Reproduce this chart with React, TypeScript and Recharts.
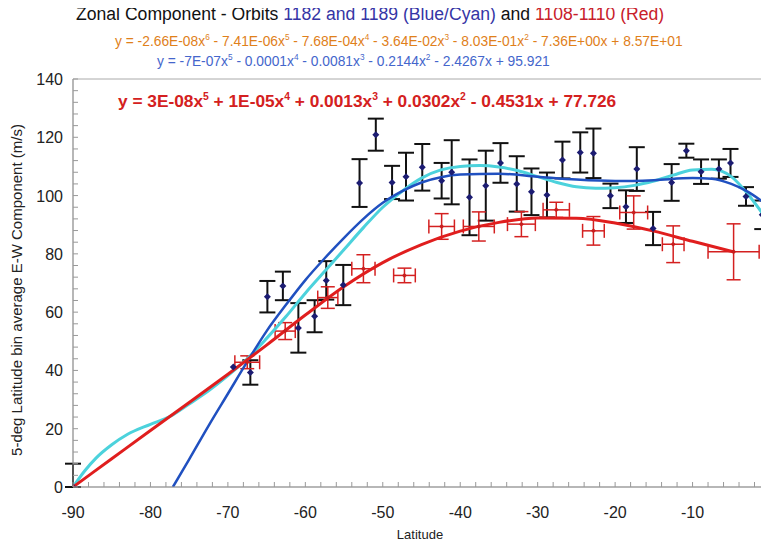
import React from 'react';
import {
  ComposedChart, Line, Scatter, XAxis, YAxis, ErrorBar, ReferenceArea,
} from 'recharts';

// Orbits 1182/1189 bin averages (navy diamonds, black error bars)
const blueLat = [-90, -69.3, -67.1, -64.9, -62.9, -60.9, -58.8, -57.3, -55.1, -53.0, -50.9, -48.8, -47.0, -44.9, -42.4, -41.1, -38.8, -36.7, -34.8, -32.7, -30.8, -28.8, -26.8, -24.5, -22.8, -20.6, -18.6, -17.2, -15.1, -12.7, -10.8, -8.9, -6.6, -5.1, -3.1, -1.0];
const blueVal = [0, 41.2, 39.3, 65.3, 69, 54.6, 58.6, 70.9, 69.3, 104.3, 120.9, 104.5, 106.5, 109.7, 105.1, 108, 99.4, 103.4, 111.2, 104, 101.3, 100.2, 112.2, 114.8, 114.5, 99.9, 96.2, 109.1, 88.7, 104.5, 115.4, 108.2, 109.1, 111.2, 99.7, 93.4];
// first bin only shows its upper half (it sits on the axis)
const blueErr: (number | number[])[] = [[0, 8], 0, 4.2, 5.4, 4.9, 8.5, 5.5, 6.6, 6.9, 8.2, 5.5, 5.7, 8.2, 8, 6.1, 11, 13, 12, 6.8, 9.5, 8, 7.7, 6.3, 6.9, 8.5, 4.2, 5.6, 7.5, 5.7, 6.3, 2.4, 4.2, 3.3, 4.8, 3.2, 4.9];

// Orbits 1108-1110 (red crosses)
const redLat = [-90, -67.5, -62.6, -57.1, -52.5, -47.2, -42.4, -37.6, -32.1, -27.6, -22.8, -17.6, -12.5, -4.7];
const redVal = [0, 42.8, 53.5, 65, 74.9, 72.6, 89.4, 89.4, 90.2, 95.1, 87.9, 94.2, 83.3, 80.7];
const redXErr = [0, 1.6, 1.3, 1.3, 1.5, 1.4, 1.65, 2.0, 1.8, 1.7, 1.4, 1.8, 1.4, 3.3];
const redYErr = [0, 2.2, 2.9, 3.7, 4.8, 2.5, 4.4, 5.0, 4.3, 2.6, 4.9, 5.7, 6.3, 9.6];

// trend curves
const fitBlueLat = [-77.1, -75, -72.5, -70, -67.5, -65, -62.5, -60, -57.5, -55, -52.5, -50, -47.5, -45, -42.5, -40, -35, -30, -25, -20, -15, -10, -7.5, -5, -3, -1];
const fitBlueVal = [0, 9.5, 21, 32, 43, 53.5, 62.5, 71, 78.5, 85.5, 92, 97.5, 101.5, 104.5, 106.3, 107.2, 107.5, 106.5, 105.5, 105, 105.3, 106, 105.8, 104, 101.5, 98];
const fitCyanLat = [-90, -88.5, -87, -85, -83, -80, -77.5, -75, -72.5, -70, -67.5, -65, -62.5, -60, -57.5, -55, -52.5, -50, -47.5, -45, -42.5, -40, -37.5, -35, -32.5, -30, -27.5, -25, -22.5, -20, -17.5, -15, -12.5, -10, -7.5, -5, -3, -1];
const fitCyanVal = [0, 5.5, 10, 14.5, 18, 21.5, 24.2, 28.5, 33, 38.2, 44, 51, 58.5, 66.5, 74, 81.5, 89, 96, 101.5, 106, 108.8, 110, 110.3, 109.8, 108.5, 106.5, 104.5, 103, 102.5, 102.7, 103.5, 105, 107, 108.8, 109, 106.5, 101, 94];
const fitRedLat = [-90, -85, -80, -75, -70, -65, -60, -55, -50, -45, -40, -35, -30, -25, -20, -15, -10, -4.7];
const fitRedVal = [0, 9.7, 19.4, 29, 38.7, 48.7, 59, 68.8, 77, 83.2, 87.8, 90.8, 92.3, 92.2, 90.6, 87.8, 84.3, 80.7];

const xTicks = Array.from({ length: 46 }, (_, i) => -90 + i * 2);
const yTicks = Array.from({ length: 36 }, (_, i) => i * 4);

const blueData = blueLat.map((lat, i) => ({ lat, v: blueVal[i], err: blueErr[i] }));
const redData = redLat.map((lat, i) => ({ lat, v: redVal[i], xerr: redXErr[i], yerr: redYErr[i] }));
const zip = (a: number[], b: number[]) => a.map((lat, i) => ({ lat, v: b[i] }));

const FONT = '"Liberation Sans", Arial, sans-serif';

const XTick = (p: any) => {
  const v = p.payload.value;
  return (
    <g>
      <line x1={p.x} x2={p.x} y1={p.y} y2={p.y - 5} stroke="#999" />
      {v % 10 === 0 && (
        <text x={p.x} y={p.y + 31} textAnchor="middle" fontSize={16} fill="#222" fontFamily={FONT}>{v}</text>
      )}
    </g>
  );
};

const YTick = (p: any) => {
  const v = p.payload.value;
  return (
    <g>
      <line x1={p.x} x2={p.x + 5} y1={p.y} y2={p.y} stroke="#999" />
      {v % 20 === 0 && (
        <text x={p.x - 10} y={p.y + 6} textAnchor="end" fontSize={16} fill="#222" fontFamily={FONT}>{v}</text>
      )}
    </g>
  );
};

const diamond = (r: number, fill: string) => (p: any) => (
  <path d={`M${p.cx},${p.cy - r}L${p.cx + r},${p.cy}L${p.cx},${p.cy + r}L${p.cx - r},${p.cy}Z`} fill={fill} />
);

const S = ({ children }: { children: React.ReactNode }) => (
  <sup style={{ fontSize: '0.6em', verticalAlign: 'super', lineHeight: 0 }}>{children}</sup>
);

export default function App() {
  return (
    <div style={{ position: 'relative', width: 769, height: 550, margin: -8, overflow: 'hidden', background: '#fff', fontFamily: FONT }}>
      <div style={{ position: 'absolute', left: 76, top: 4, fontSize: 17.6, lineHeight: '20px', whiteSpace: 'nowrap', color: '#111' }}>
        Zonal Component - Orbits <span style={{ color: '#3535a5' }}>1182 and 1189 (Blue/Cyan)</span> and{' '}
        <span style={{ color: '#c8202a' }}>1108-1110 (Red)</span>
      </div>
      <div style={{ position: 'absolute', left: 115, top: 34, fontSize: 13.8, lineHeight: '16px', whiteSpace: 'nowrap', color: '#e0801a' }}>
        y = -2.66E-08x<S>6</S> - 7.41E-06x<S>5</S> - 7.68E-04x<S>4</S> - 3.64E-02x<S>3</S> - 8.03E-01x<S>2</S> - 7.36E+00x + 8.57E+01
      </div>
      <div style={{ position: 'absolute', left: 157, top: 54, fontSize: 13.8, lineHeight: '16px', whiteSpace: 'nowrap', color: '#4466cc' }}>
        y = -7E-07x<S>5</S> - 0.0001x<S>4</S> - 0.0081x<S>3</S> - 0.2144x<S>2</S> - 2.4267x + 95.921
      </div>
      <div style={{ position: 'absolute', left: 118, top: 91, fontSize: 17.3, lineHeight: '20px', fontWeight: 'bold', whiteSpace: 'nowrap', color: '#d42020', zIndex: 2 }}>
        y = 3E-08x<S>5</S> + 1E-05x<S>4</S> + 0.0013x<S>3</S> + 0.0302x<S>2</S> - 0.4531x + 77.726
      </div>
      <div style={{ position: 'absolute', left: 420, top: 527, fontSize: 13, color: '#222', transform: 'translateX(-50%)' }}>Latitude</div>
      <div style={{
        position: 'absolute', left: 16, top: 290, fontSize: 15, color: '#222', whiteSpace: 'nowrap',
        transform: 'translate(-50%, -50%) rotate(-90deg)',
      }}>
        5-deg Latitude bin average E-W Component (m/s)
      </div>
      <div style={{ position: 'absolute', left: 0, top: 0 }}>
        <ComposedChart width={800} height={550} margin={{ top: 79, right: 30, bottom: 0, left: 0 }}>
          <XAxis
            type="number" dataKey="lat" domain={[-90, 0]} ticks={xTicks} interval={0}
            allowDataOverflow height={63} tickSize={0} tickMargin={0} tickLine={false}
            axisLine={{ stroke: '#999' }} tick={<XTick />}
          />
          <YAxis
            type="number" dataKey="v" domain={[0, 140]} ticks={yTicks} interval={0}
            allowDataOverflow width={73} tickSize={0} tickMargin={0} tickLine={false}
            axisLine={{ stroke: '#999' }} tick={<YTick />}
          />
          <ReferenceArea x1={-90} x2={0} y1={0} y2={140} fill="none" stroke="#aaa" />
          <Scatter data={blueData} isAnimationActive={false} shape={diamond(3.5, '#1c1c72')}>
            <ErrorBar dataKey="err" direction="y" width={8} stroke="#111" strokeWidth={2} isAnimationActive={false} />
          </Scatter>
          <Scatter data={redData} isAnimationActive={false} shape={diamond(2.5, '#c81e1e')}>
            <ErrorBar dataKey="xerr" direction="x" width={7} stroke="#d42020" strokeWidth={1.5} isAnimationActive={false} />
            <ErrorBar dataKey="yerr" direction="y" width={7} stroke="#d42020" strokeWidth={1.5} isAnimationActive={false} />
          </Scatter>
          <Line data={zip(fitCyanLat, fitCyanVal)} dataKey="v" type="monotone" stroke="#4cd2dc" strokeWidth={3} dot={false} isAnimationActive={false} />
          <Line data={zip(fitBlueLat, fitBlueVal)} dataKey="v" type="monotone" stroke="#2050c0" strokeWidth={2.5} dot={false} isAnimationActive={false} />
          <Line data={zip(fitRedLat, fitRedVal)} dataKey="v" type="monotone" stroke="#e01e1e" strokeWidth={3} dot={false} isAnimationActive={false} />
        </ComposedChart>
      </div>
    </div>
  );
}
